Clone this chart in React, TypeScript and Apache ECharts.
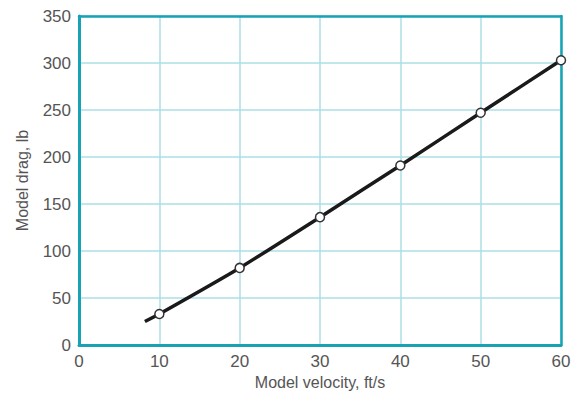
import React, { useEffect, useRef } from "react";
import * as echarts from "echarts";

const velocity = [10, 20, 30, 40, 50, 60];
const drag = [33, 82, 136, 191, 247, 303];
const curveStart = [8.2, 25];
const xTicks = [0, 10, 20, 30, 40, 50, 60];
const yTicks = [0, 50, 100, 150, 200, 250, 300, 350];

export default function App() {
  const ref = useRef<HTMLDivElement>(null);
  useEffect(() => {
    const chart = echarts.init(ref.current!, null, { renderer: "svg" });
    const lineData = [curveStart, ...velocity.map((v, i) => [v, drag[i]])];
    const gridColor = "#aadfe6";
    const borderColor = "#17a3b4";
    const font = "Liberation Sans, Arial, sans-serif";
    const xBase = { type: "value", min: xTicks[0], max: xTicks[xTicks.length - 1], interval: 10 };
    const yBase = { type: "value", min: yTicks[0], max: yTicks[yTicks.length - 1], interval: 50 };
    chart.setOption({
      animation: false,
      backgroundColor: "#ffffff",
      grid: { left: 79, top: 16, right: 21, bottom: 48, outerBoundsMode: "none", containLabel: false },
      xAxis: [
        {
          ...xBase,
          position: "bottom",
          name: "Model velocity, ft/s",
          nameLocation: "middle",
          nameGap: 29,
          nameTextStyle: { color: "#555", fontSize: 16, fontFamily: font },
          axisLine: { show: true, onZero: false, lineStyle: { color: borderColor, width: 3 } },
          axisTick: { show: false },
          axisLabel: { color: "#555", fontSize: 17, margin: 8, fontFamily: font },
          splitLine: { show: true, lineStyle: { color: gridColor, width: 1.5 } },
          z: 2,
        },
        {
          ...xBase,
          position: "top",
          axisLine: { show: true, onZero: false, lineStyle: { color: borderColor, width: 2.5 } },
          axisTick: { show: false },
          axisLabel: { show: false },
          splitLine: { show: false },
          z: 2,
        },
      ],
      yAxis: [
        {
          ...yBase,
          position: "left",
          name: "Model drag, lb",
          nameLocation: "middle",
          nameGap: 49,
          nameTextStyle: { color: "#555", fontSize: 16, fontFamily: font },
          axisLine: { show: true, onZero: false, lineStyle: { color: borderColor, width: 3 } },
          axisTick: { show: false },
          axisLabel: { color: "#555", fontSize: 17, margin: 8, fontFamily: font },
          splitLine: { show: true, lineStyle: { color: gridColor, width: 1.5 } },
          z: 2,
        },
        {
          ...yBase,
          position: "right",
          axisLine: { show: true, onZero: false, lineStyle: { color: borderColor, width: 2.5 } },
          axisTick: { show: false },
          axisLabel: { show: false },
          splitLine: { show: false },
          z: 2,
        },
      ],
      series: [
        {
          type: "line",
          data: lineData,
          smooth: 0.15,
          showSymbol: false,
          symbol: "none",
          lineStyle: { color: "#1a1a1a", width: 3.5 },
          z: 3,
        },
        {
          type: "scatter",
          data: velocity.map((v, i) => [v, drag[i]]),
          symbol: "circle",
          symbolSize: 9,
          itemStyle: { color: "#ffffff", borderColor: "#333", borderWidth: 1.5, opacity: 1 },
          z: 4,
        },
      ],
    });
    return () => chart.dispose();
  }, []);
  return <div ref={ref} style={{ width: 582, height: 393, position: "absolute", left: 0, top: 0 }} />;
}
